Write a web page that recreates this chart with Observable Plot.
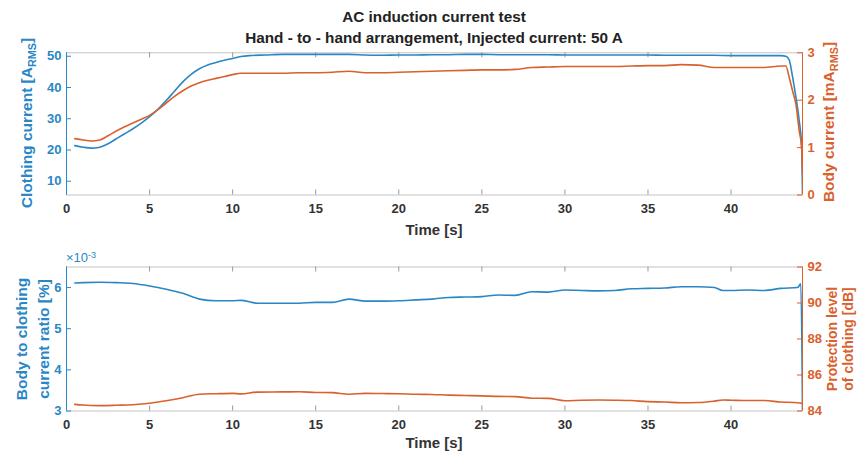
<!DOCTYPE html>
<html><head><meta charset="utf-8">
<script src="https://cdn.jsdelivr.net/npm/d3@7"></script>
<script src="https://cdn.jsdelivr.net/npm/@observablehq/plot@0.6"></script>
<style>
body{margin:0;background:#fff;font-family:"Liberation Sans",Arial,sans-serif;}
#wrap{position:relative;width:857px;height:452px;overflow:hidden;background:#fff;}
.layer{position:absolute;left:0;}
.lbl{position:absolute;font-weight:bold;white-space:nowrap;transform:translate(-50%,-50%);text-align:center;}
.rot{transform:translate(-50%,-50%) rotate(-90deg);}
sub{font-size:70%;vertical-align:-0.35em;line-height:0;}
sup{font-size:70%;vertical-align:0.45em;line-height:0;}
</style></head><body><div id="wrap"></div>
<script>
// ---------- data ----------
const titleText = "AC induction current test";
const subtitleText = "Hand - to - hand arrangement, Injected current: 50 A";
const xTicks = [0, 5, 10, 15, 20, 25, 30, 35, 40];

// top panel
const timeTop = [0.5,1,1.5,2,2.5,3,3.5,4,4.5,5,5.5,6,6.5,7,7.5,8,8.5,9,9.5,10,10.5,11,12,13,14,15,16,17,18,19,20,21,22,23,24,25,26,27,28,29,30,31,32,33,34,35,36,37,38,39,40,41,42,43,43.3,43.5,43.7,43.9,44.1,44.25,44.3];
const clothingCurrent = [21.4,20.9,20.6,20.9,22.0,23.6,25.2,26.8,28.6,30.7,33.0,35.8,38.8,41.8,44.2,46.0,47.2,48.0,48.7,49.3,49.9,50.2,50.4,50.6,50.6,50.6,50.6,50.6,50.4,50.3,50.4,50.4,50.5,50.5,50.6,50.6,50.5,50.5,50.5,50.5,50.4,50.4,50.4,50.4,50.4,50.4,50.3,50.3,50.3,50.3,50.2,50.2,50.2,50.2,50.0,48.8,43.5,37.0,29.5,21.0,6.0];
const bodyCurrent = [1.19,1.16,1.14,1.16,1.25,1.35,1.44,1.52,1.60,1.68,1.80,1.94,2.08,2.20,2.30,2.37,2.42,2.46,2.50,2.54,2.57,2.57,2.57,2.57,2.58,2.58,2.59,2.61,2.58,2.58,2.59,2.60,2.61,2.62,2.63,2.64,2.64,2.65,2.69,2.70,2.71,2.71,2.71,2.71,2.72,2.73,2.73,2.75,2.74,2.69,2.69,2.69,2.69,2.72,2.72,2.48,2.20,1.92,1.36,1.00,0.45];
const clothingTicks = [10, 20, 30, 40, 50];
const bodyTicks = [0, 1, 2, 3];

// bottom panel
const timeBottom = [0.5,1,2,3,4,5,6,7,8,9,10,10.5,11.5,13,14,15,16,17,18,19,20,21,22,23,24,25,26,27,28,29,30,31,32,33,34,35,36,37,38,39,39.5,40,41,42,43,44,44.2,44.3];
const currentRatio = [6.11e-3,6.12e-3,6.13e-3,6.12e-3,6.10e-3,6.04e-3,5.96e-3,5.86e-3,5.72e-3,5.68e-3,5.68e-3,5.69e-3,5.62e-3,5.62e-3,5.62e-3,5.64e-3,5.64e-3,5.72e-3,5.67e-3,5.67e-3,5.68e-3,5.70e-3,5.72e-3,5.76e-3,5.77e-3,5.78e-3,5.82e-3,5.81e-3,5.90e-3,5.89e-3,5.94e-3,5.93e-3,5.92e-3,5.93e-3,5.97e-3,5.98e-3,5.99e-3,6.02e-3,6.02e-3,6.00e-3,5.93e-3,5.93e-3,5.94e-3,5.93e-3,5.98e-3,6.00e-3,6.09e-3,3.0e-3];
const protectionLevel = [84.37,84.33,84.30,84.32,84.35,84.43,84.57,84.74,84.93,84.96,84.98,84.95,85.05,85.06,85.07,85.03,85.02,84.93,84.98,84.97,84.96,84.93,84.92,84.88,84.86,84.84,84.81,84.80,84.71,84.70,84.57,84.60,84.61,84.60,84.58,84.52,84.50,84.46,84.47,84.55,84.61,84.60,84.58,84.58,84.50,84.46,84.44,84.43];
const ratioTicks = [3e-3, 4e-3, 5e-3, 6e-3];
const protectionTicks = [84, 86, 88, 90, 92];

// ---------- style ----------
const BLUE = "#2a87c5", ORANGE = "#d9612d", BOX = "#c4c4c4", TXT = "#333333";
const W = 857, ML = 66, MR = 55;
const xDomain = [0, 44.3];
const wrap = document.getElementById("wrap");

function layer(top, svg){ svg.classList.add("layer"); svg.style.top = top + "px"; wrap.appendChild(svg); }

function panel({top, height, mt, mb, x, leftY, leftDomain, leftTicks, leftFmt, rightY, rightDomain, rightTicks}){
  const fh = height - mt - mb, fw = W - ML - MR;
  const style = {fontFamily: "'Liberation Sans', Arial, sans-serif", fontSize: "13px", fontWeight: "bold", background: "transparent", overflow: "visible"};
  const leftData = x.map((t, i) => ({t, v: leftY[i]}));
  const rightData = x.map((t, i) => ({t, v: rightY[i]}));
  const left = Plot.plot({
    width: W, height, marginTop: mt, marginBottom: mb, marginLeft: ML, marginRight: MR, style,
    x: {domain: xDomain}, y: {domain: leftDomain},
    marks: [
      Plot.frame({stroke: BOX}),
      Plot.tickX(xTicks, {x: d => d, insetTop: fh - 5, stroke: "#999"}),
      Plot.tickX(xTicks, {x: d => d, insetBottom: fh - 5, stroke: "#999"}),
      Plot.tickY(leftTicks, {y: d => d, insetRight: fw - 5, stroke: BLUE}),
      Plot.ruleX([xDomain[0]], {stroke: BLUE, strokeWidth: 1}),
      Plot.axisX(xTicks, {tickSize: 0, tickPadding: 9, color: TXT, label: null}),
      Plot.axisY(leftTicks, {anchor: "left", tickSize: 0, tickPadding: 5, color: BLUE, label: null, tickFormat: leftFmt}),
      Plot.line(leftData, {x: "t", y: "v", stroke: BLUE, strokeWidth: 1.6, curve: "monotone-x", clip: true})
    ]
  });
  const right = Plot.plot({
    width: W, height, marginTop: mt, marginBottom: mb, marginLeft: ML, marginRight: MR, style,
    x: {domain: xDomain, axis: null}, y: {domain: rightDomain},
    marks: [
      Plot.tickY(rightTicks, {y: d => d, insetLeft: fw - 5, stroke: ORANGE}),
      Plot.ruleX([xDomain[1]], {stroke: ORANGE, strokeWidth: 1}),
      Plot.axisY(rightTicks, {anchor: "right", tickSize: 0, tickPadding: 5, color: ORANGE, label: null}),
      Plot.line(rightData, {x: "t", y: "v", stroke: ORANGE, strokeWidth: 1.6, curve: "monotone-x", clip: true})
    ]
  });
  layer(top, left); layer(top, right);
}

panel({top: 0, height: 235, mt: 52.3, mb: 40.5, x: timeTop,
  leftY: clothingCurrent, leftDomain: [5.6, 51.1], leftTicks: clothingTicks, leftFmt: d => d,
  rightY: bodyCurrent, rightDomain: [0, 3], rightTicks: bodyTicks});
panel({top: 235, height: 217, mt: 31.5, mb: 41.5, x: timeBottom,
  leftY: currentRatio, leftDomain: [3e-3, 6.5e-3], leftTicks: ratioTicks, leftFmt: d => Math.round(d * 1000),
  rightY: protectionLevel, rightDomain: [84, 92], rightTicks: protectionTicks});

// ---------- text ----------
function label(html, x, y, {size = 14, color = TXT, rot = false, weight = "bold", lh = null} = {}){
  const d = document.createElement("div");
  d.className = "lbl" + (rot ? " rot" : "");
  d.innerHTML = html;
  d.style.left = x + "px"; d.style.top = y + "px";
  d.style.fontSize = size + "px"; d.style.color = color; d.style.fontWeight = weight;
  if (lh) d.style.lineHeight = lh + "px";
  wrap.appendChild(d);
}
label(titleText, 434, 17, {size: 15.3, color: "#222"});
label(subtitleText, 434, 38, {size: 15.3, color: "#222"});
label("Time [s]", 434, 229, {size: 15});
label("Time [s]", 434, 442, {size: 15});
label("Clothing current [A<sub>RMS</sub>]", 27, 123, {size: 15.5, color: BLUE, rot: true});
label("Body current [mA<sub>RMS</sub>]", 829, 122, {size: 15.5, color: ORANGE, rot: true});
label("Body to clothing<br>current ratio [%]", 33, 339, {size: 15.5, color: BLUE, rot: true, lh: 22});
label("Protection level<br>of clothing [dB]", 840, 339, {size: 14, color: ORANGE, rot: true, lh: 15.5});
const m = document.createElement("div");
m.innerHTML = "×10<sup>-3</sup>";
Object.assign(m.style, {position: "absolute", left: "66px", top: "250px", fontSize: "13px", color: BLUE, whiteSpace: "nowrap"});
wrap.appendChild(m);
</script>
</body></html>
